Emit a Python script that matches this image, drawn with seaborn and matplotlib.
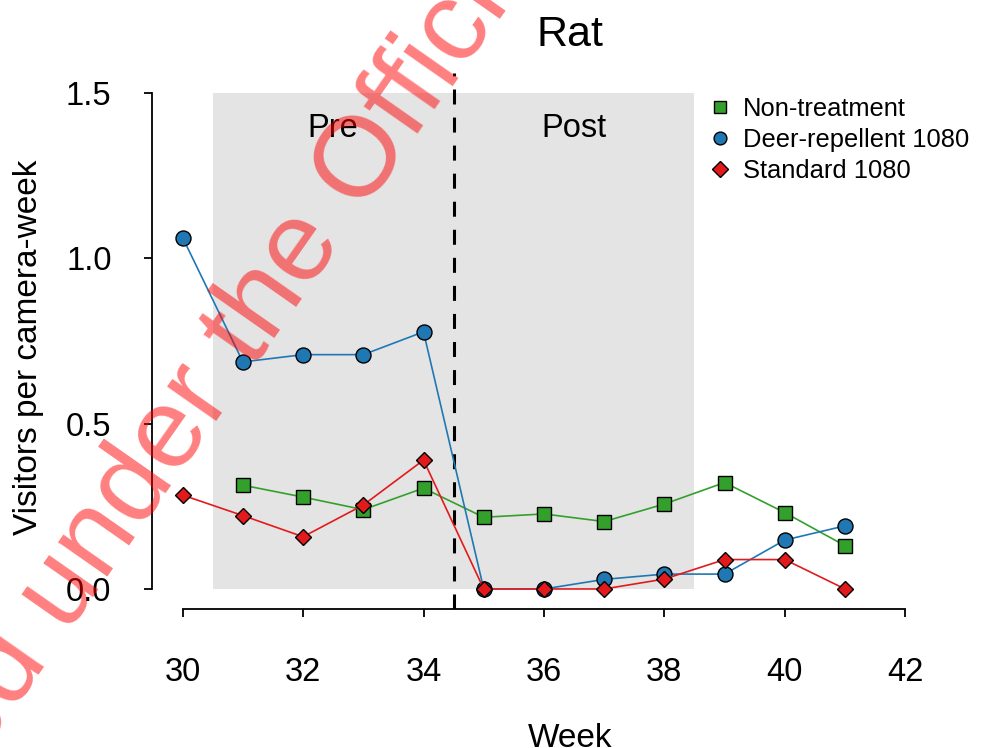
import numpy as np
import pandas as pd
import matplotlib
matplotlib.use("Agg")
import matplotlib.pyplot as plt
from matplotlib.lines import Line2D
import seaborn as sns

# ---- data ----
weeks = [30, 31, 32, 33, 34, 35, 36, 37, 38, 39, 40, 41]
non_treatment = [np.nan, 0.314, 0.278, 0.240, 0.305, 0.217, 0.227, 0.204, 0.257, 0.322, 0.231, 0.131]
deer_repellent = [1.063, 0.687, 0.709, 0.709, 0.778, 0.0, 0.0, 0.029, 0.045, 0.045, 0.148, 0.191]
standard_1080 = [0.284, 0.222, 0.158, 0.254, 0.390, 0.0, 0.0, 0.0, 0.030, 0.089, 0.089, 0.0]
series_names = ["Non-treatment", "Deer-repellent 1080", "Standard 1080"]
x_ticks = [30, 32, 34, 36, 38, 40, 42]
y_ticks = [0.0, 0.5, 1.0, 1.5]
y_tick_labels = ["0.0", "0.5", "1.0", "1.5"]
period_labels = ["Pre", "Post"]
period_centers = [32.5, 36.5]
shade_span = (30.5, 38.5)
treatment_week = 34.5
title = "Rat"
xlabel = "Week"
ylabel = "Visitors per camera-week"
watermark_a = "Released under the"
watermark_b = "Official Information Act"

df = pd.DataFrame({"Week": weeks * 3,
                   "Visitors": non_treatment + deer_repellent + standard_1080,
                   "Group": np.repeat(series_names, len(weeks))}).dropna()

sns.set_style("white")
plt.rcParams["font.family"] = ["Liberation Sans", "DejaVu Sans"]
plt.rcParams["lines.scale_dashes"] = False
for k in ("text.color", "axes.labelcolor", "xtick.color", "ytick.color", "axes.edgecolor"):
    plt.rcParams[k] = "black"

W, H = 988, 748
fig = plt.figure(figsize=(W / 100, H / 100), dpi=100)
ax = fig.add_axes([151.7 / W, 1 - 608.8 / H, (988 - 151.7) / W, (608.8 - 73.4) / H])

colors = {"Non-treatment": "#33A02C", "Deer-repellent 1080": "#1F78B4", "Standard 1080": "#E31A1C"}
markers = {"Non-treatment": "s", "Deer-repellent 1080": "o", "Standard 1080": "D"}
msizes = {"Non-treatment": 10.0, "Deer-repellent 1080": 10.8, "Standard 1080": 8.5}
leg_sizes = {"Non-treatment": 8.5, "Deer-repellent 1080": 9.2, "Standard 1080": 8.4}

# background shading and treatment line
ax.axvspan(shade_span[0], shade_span[1], ymin=(0 + 0.06) / 1.62, ymax=(1.5 + 0.06) / 1.62,
           color="#E4E4E4", lw=0, zorder=0)
ax.axvline(treatment_week, color="black", lw=2.2, dashes=(10.8, 9.4), zorder=1)

for name in series_names:
    sub = df[df["Group"] == name]
    sns.lineplot(data=sub, x="Week", y="Visitors", ax=ax, color=colors[name],
                 marker=markers[name], markersize=msizes[name], markeredgecolor="black",
                 markeredgewidth=1.0, linewidth=1.2, legend=False, zorder=3)

for lab, xc in zip(period_labels, period_centers):
    ax.text(xc, 1.3676, lab, ha="center", va="baseline", fontsize=23.5, color="black", zorder=4)

ax.set_xlim(29.4855, 43.375)
ax.set_ylim(-0.06, 1.56)
ax.set_xticks(x_ticks)
ax.set_yticks(y_ticks)
ax.set_yticklabels(y_tick_labels)
sns.despine(ax=ax, top=True, right=True)
ax.spines["left"].set_bounds(0, 1.5)
ax.spines["bottom"].set_bounds(30, 42)
for s in ("left", "bottom"):
    ax.spines[s].set_linewidth(1.3)
    ax.spines[s].set_color("black")
ax.tick_params(axis="both", which="major", direction="out", length=6, width=1.3,
               colors="black", labelsize=23.5, bottom=True, left=True)
ax.tick_params(axis="x", pad=28.9)
ax.tick_params(axis="y", pad=22.9)

ax.set_title(title, fontsize=31, pad=20, color="black")
ax.set_xlabel(xlabel, fontsize=24, color="black")
ax.xaxis.label.set_va("baseline")
ax.xaxis.set_label_coords(0.5, -(747 - 608.8) / (608.8 - 73.4))
ax.set_ylabel(ylabel, fontsize=24, color="black")
ax.yaxis.label.set_va("baseline")
ax.yaxis.set_label_coords((37 - 151.7) / (988 - 151.7), (608.8 - 347) / (608.8 - 73.4))

handles = [Line2D([], [], linestyle="none", marker=markers[n], color=colors[n],
                  markeredgecolor="black", markeredgewidth=1.0, markersize=leg_sizes[n])
           for n in series_names]
leg = ax.legend(handles, series_names, loc="upper left", bbox_to_anchor=(707 / W, 1 - 97 / H),
                bbox_transform=fig.transFigure, frameon=False, fontsize=18.4, borderpad=0,
                borderaxespad=0, handlelength=1.0, handletextpad=0.4, labelspacing=0.27)
for t in leg.get_texts():
    t.set_color("black")

# watermark
fig.text(362 / W, 1 - 214 / H, watermark_b, fontsize=82, color="red", alpha=0.5,
         rotation=55, rotation_mode="anchor", ha="left", va="baseline", zorder=10)
fig.text(343.8 / W, 1 - 240 / H, watermark_a, fontsize=82, color="red", alpha=0.5,
         rotation=55, rotation_mode="anchor", ha="right", va="baseline", zorder=10)

fig.savefig("out.png", dpi=100)
